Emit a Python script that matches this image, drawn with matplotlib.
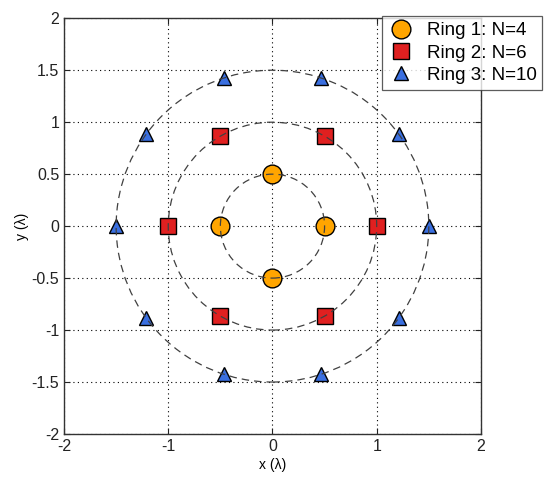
import matplotlib
matplotlib.use("Agg")
import matplotlib.pyplot as plt
import matplotlib.patches as patches

# ring radii (in wavelengths)
radii = [0.5, 1.0, 1.5]

# element positions
ring1_x = [0.5, 0.0, -0.5, 0.0]
ring1_y = [0.0, 0.5, 0.0, -0.5]

ring2_x = [1.0, 0.5, -0.5, -1.0, -0.5, 0.5]
ring2_y = [0.0, 0.866, 0.866, 0.0, -0.866, -0.866]

ring3_x = [1.5, 1.214, 0.464, -0.464, -1.214, -1.5, -1.214, -0.464, 0.464, 1.214]
ring3_y = [0.0, 0.882, 1.427, 1.427, 0.882, 0.0, -0.882, -1.427, -1.427, -0.882]

labels = ["Ring 1: N=4", "Ring 2: N=6", "Ring 3: N=10"]
ticks = [-2, -1.5, -1, -0.5, 0, 0.5, 1, 1.5, 2]
tick_labels = ["-2", "-1.5", "-1", "-0.5", "0", "0.5", "1", "1.5", "2"]

plt.rcParams['font.family'] = ['Liberation Sans', 'DejaVu Sans']

fig = plt.figure(figsize=(5.5, 4.84), dpi=100)
ax = fig.add_axes([0.1164, 0.1033, 0.758, 0.859])

ax.plot(ring1_x, ring1_y, 'o', ms=13.5, mfc='#FFA500', mec='black', mew=1.0,
        ls='none', label=labels[0], zorder=3)
ax.plot(ring2_x, ring2_y, 's', ms=12, mfc='#E02020', mec='black', mew=1.0,
        ls='none', label=labels[1], zorder=3)
ax.plot(ring3_x, ring3_y, '^', ms=10, mfc='#3A6FE0', mec='black', mew=1.0,
        ls='none', label=labels[2], zorder=3)

# dashed rings drawn on top of the markers
for r in radii:
    c = patches.Circle((0, 0), r, fill=False, ls=(0, (6, 4)), lw=0.9,
                       edgecolor='#404040', zorder=4)
    ax.add_patch(c)

ax.set_xlim(-2, 2)
ax.set_ylim(-2, 2)
ax.set_xticks(ticks[::2])
ax.set_xticklabels(tick_labels[::2])
ax.set_yticks(ticks)
ax.set_yticklabels(tick_labels)
ax.tick_params(direction='in', length=4, labelsize=11.5, colors='#222222',
               top=True, right=True)
ax.grid(True, ls=(0, (1, 3)), color='black', lw=0.8)
ax.set_axisbelow(True)
for s in ax.spines.values():
    s.set_linewidth(1.0)
    s.set_color('#333333')

ax.set_xlabel("x (λ)", fontsize=10, labelpad=3)
ax.set_ylabel("y (λ)", fontsize=10, labelpad=2)

leg = fig.legend(loc='upper right', bbox_to_anchor=(0.986, 0.966),
                 fontsize=13.5, frameon=True, fancybox=False, borderaxespad=0,
                 handletextpad=0.6, borderpad=0.3, labelspacing=0.28,
                 handlelength=1.5)
leg.get_frame().set_edgecolor('#333333')
leg.get_frame().set_linewidth(0.9)

fig.savefig("out.png", dpi=100)
